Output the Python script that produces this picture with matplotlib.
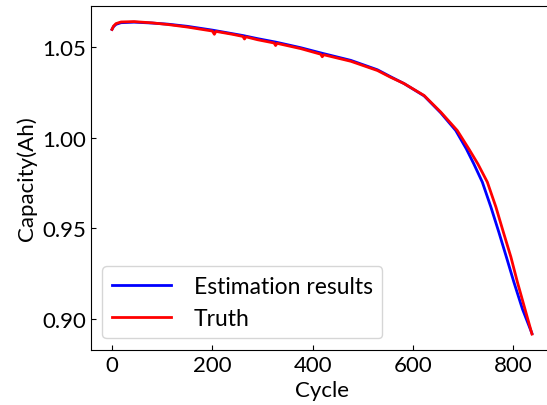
import matplotlib
matplotlib.use("Agg")
import matplotlib.pyplot as plt

plt.rcParams["font.family"] = ["Lato", "DejaVu Sans"]

truth_cycle = [0, 3, 8, 18, 44, 80, 111, 150, 177, 200, 204, 207, 240, 261, 264, 267,
               290, 323, 326, 329, 376, 416, 419, 422, 476, 529, 555, 582, 622, 655,
               688, 711, 729, 748, 765, 780, 795, 808, 823, 837]
truth_cap = [1.0597, 1.0615, 1.0629, 1.0638, 1.0640, 1.0633, 1.0624, 1.0610, 1.0598,
             1.0588, 1.0570, 1.0586, 1.0570, 1.0558, 1.0544, 1.0556, 1.0540, 1.0522,
             1.0508, 1.0520, 1.0491, 1.0460, 1.0446, 1.0457, 1.0421, 1.0370, 1.0333,
             1.0298, 1.0232, 1.0141, 1.0039, 0.9938, 0.9855, 0.9754, 0.9617, 0.9477,
             0.9340, 0.9201, 0.9053, 0.8915]

# Estimation results
est_cycle = [0, 3, 8, 18, 44, 80, 111, 150, 200, 261, 290, 326, 376, 419, 476, 529,
             555, 582, 622, 655, 685, 706, 721, 738, 755, 771, 786, 801, 818, 837]
est_cap = [1.0597, 1.0612, 1.0625, 1.0634, 1.0637, 1.0632, 1.0626, 1.0614, 1.0593,
           1.0563, 1.0546, 1.0527, 1.0496, 1.0465, 1.0426, 1.0374, 1.0336, 1.0298,
           1.0230, 1.0137, 1.0039, 0.9938, 0.9855, 0.9754, 0.9617, 0.9477, 0.9340,
           0.9201, 0.9053, 0.8918]

fig = plt.figure(figsize=(5.47, 4.06), dpi=100)
ax = fig.add_axes([91 / 547, 0.1362, 462 / 547, 0.8466])

ax.plot(est_cycle, est_cap, color="blue", linewidth=2, label="Estimation results")
ax.plot(truth_cycle, truth_cap, color="red", linewidth=2, label="Truth")

ax.spines["right"].set_visible(False)
ax.set_yticks([0.90, 0.95, 1.00, 1.05])
ax.set_xticks([0, 200, 400, 600, 800])
ax.tick_params(direction="in", labelsize=16)
ax.set_xlabel("Cycle", fontsize=16)
ax.set_ylabel("Capacity(Ah)", fontsize=16)
ax.legend(loc="lower left", fontsize=16.5, handlelength=2.6, handletextpad=1.0)

fig.savefig("out.png", dpi=100)
